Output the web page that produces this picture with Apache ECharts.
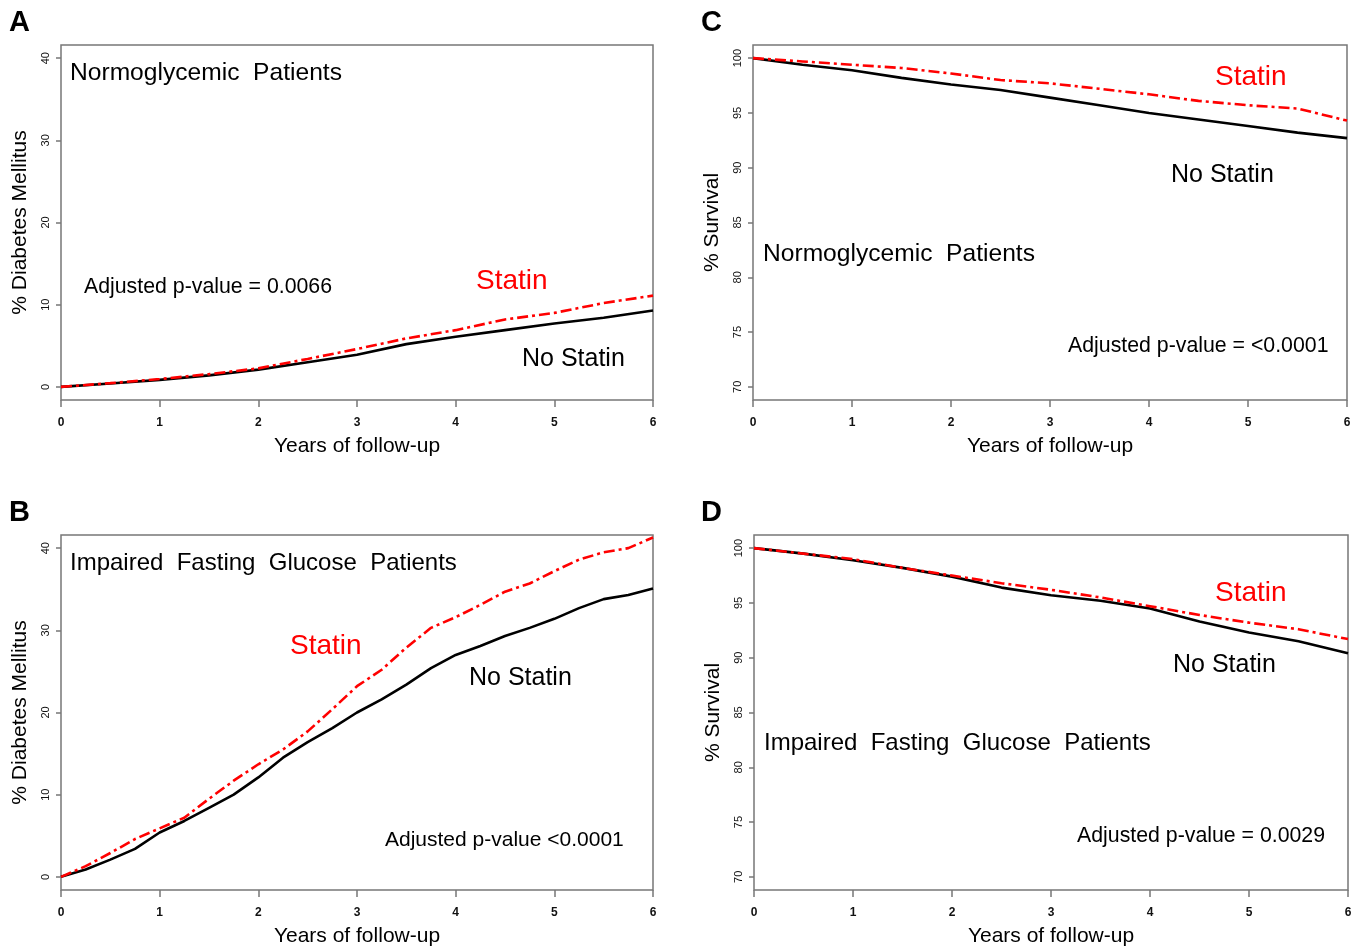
<!DOCTYPE html>
<html>
<head>
<meta charset="utf-8">
<script src="https://cdn.jsdelivr.net/npm/echarts@6/dist/echarts.min.js"></script>
<style>
  html, body { margin: 0; padding: 0; background: #fff; }
  #chart { width: 1358px; height: 948px; }
</style>
</head>
<body>
<div id="chart"></div>
<script>
// follow-up times (years)
const yearsHalf = [0, 0.5, 1, 1.5, 2, 2.5, 3, 3.5, 4, 4.5, 5, 5.5, 6];
const yearsQuarter = [0, 0.25, 0.5, 0.75, 1, 1.25, 1.5, 1.75, 2, 2.25, 2.5, 2.75, 3,
  3.25, 3.5, 3.75, 4, 4.25, 4.5, 4.75, 5, 5.25, 5.5, 5.75, 6];

// A: normoglycemic, % diabetes
const noStatinA = [0, 0.4, 0.85, 1.4, 2.1, 3.0, 3.9, 5.2, 6.1, 6.9, 7.7, 8.4, 9.3];
const statinA = [0, 0.45, 0.95, 1.55, 2.25, 3.4, 4.6, 5.9, 6.9, 8.2, 9.0, 10.2, 11.1];

// B: impaired fasting glucose, % diabetes
const noStatinB = [0, 0.9, 2.1, 3.4, 5.4, 6.8, 8.4, 10.0, 12.1, 14.5, 16.4, 18.1, 20.0,
  21.6, 23.4, 25.4, 27.0, 28.1, 29.3, 30.3, 31.4, 32.7, 33.8, 34.3, 35.1];
const statinB = [0, 1.3, 2.9, 4.6, 5.9, 7.2, 9.5, 11.7, 13.7, 15.5, 17.7, 20.4, 23.2,
  25.2, 27.9, 30.3, 31.6, 33.1, 34.7, 35.7, 37.2, 38.6, 39.5, 40.0, 41.3];

// C: normoglycemic, % survival
const noStatinC = [100, 99.4, 98.9, 98.2, 97.6, 97.1, 96.4, 95.7, 95.0, 94.4, 93.8, 93.2, 92.7];
const statinC = [100, 99.7, 99.4, 99.1, 98.6, 98.0, 97.7, 97.2, 96.7, 96.1, 95.7, 95.4, 94.3];

// D: impaired fasting glucose, % survival
const noStatinD = [100, 99.5, 98.9, 98.2, 97.4, 96.4, 95.7, 95.2, 94.5, 93.3, 92.3, 91.5, 90.4];
const statinD = [100, 99.5, 99.0, 98.2, 97.5, 96.8, 96.2, 95.5, 94.7, 93.9, 93.2, 92.6, 91.7];

const yearTicks = [0, 1, 2, 3, 4, 5, 6];
const diabetesTicks = [0, 10, 20, 30, 40];
const survivalTicks = [70, 75, 80, 85, 90, 95, 100];

const FONT = '"Liberation Sans", Arial, sans-serif';

function pairs(xs, ys) {
  return xs.map((x, i) => [x, ys[i]]);
}

function xAxisFor(gridIndex) {
  return {
    type: 'value', gridIndex: gridIndex, min: 0, max: 6, interval: 1,
    name: 'Years of follow-up', nameLocation: 'middle', nameGap: 36,
    nameTextStyle: { fontSize: 21, color: '#000', fontFamily: FONT },
    axisLine: { show: false, onZero: false },
    axisTick: { show: true, inside: false, length: 7, lineStyle: { color: '#777', width: 1.5 } },
    axisLabel: { margin: 17, fontSize: 12, fontWeight: 'bold', color: '#111', fontFamily: FONT,
      customValues: yearTicks },
    splitLine: { show: false }
  };
}

function yAxisFor(gridIndex, min, max, ticks, title) {
  return {
    type: 'value', gridIndex: gridIndex, min: min, max: max,
    name: title, nameLocation: 'middle', nameGap: 30,
    nameTextStyle: { fontSize: 21, color: '#000', fontFamily: FONT },
    axisLine: { show: false, onZero: false },
    axisTick: { show: true, length: 5, lineStyle: { color: '#777', width: 1.5 }, customValues: ticks },
    axisLabel: { margin: 10, rotate: 90, fontSize: 11, color: '#111', fontFamily: FONT, customValues: ticks },
    splitLine: { show: false }
  };
}

function line(name, idx, data, isStatin) {
  return {
    name: name, type: 'line', xAxisIndex: idx, yAxisIndex: idx,
    data: data, showSymbol: false, symbol: 'none', z: isStatin ? 3 : 2,
    lineStyle: isStatin
      ? { color: '#ff0000', width: 2.6, type: [11, 4, 3, 4] }
      : { color: '#000', width: 2.6 }
  };
}

function label(text, x, y, size, color, bold) {
  return {
    type: 'text', x: x, y: y,
    style: { text: text, fill: color || '#000', fontSize: size, fontFamily: FONT,
      fontWeight: bold ? 'bold' : 'normal', align: 'left', verticalAlign: 'middle' }
  };
}

const chart = echarts.init(document.getElementById('chart'));

chart.setOption({
  animation: false,
  backgroundColor: '#fff',
  grid: [
    { left: 61, top: 45, width: 592, height: 355, show: true, borderColor: '#777', borderWidth: 1.5 },
    { left: 61, top: 535, width: 592, height: 356, show: true, borderColor: '#777', borderWidth: 1.5 },
    { left: 753, top: 45, width: 594, height: 355, show: true, borderColor: '#777', borderWidth: 1.5 },
    { left: 754, top: 535, width: 594, height: 356, show: true, borderColor: '#777', borderWidth: 1.5 }
  ],
  xAxis: [xAxisFor(0), xAxisFor(1), xAxisFor(2), xAxisFor(3)],
  yAxis: [
    yAxisFor(0, -1.6, 41.6, diabetesTicks, '% Diabetes Mellitus'),
    yAxisFor(1, -1.6, 41.6, diabetesTicks, '% Diabetes Mellitus'),
    yAxisFor(2, 68.8, 101.2, survivalTicks, '% Survival'),
    yAxisFor(3, 68.8, 101.2, survivalTicks, '% Survival')
  ],
  series: [
    line('No Statin', 0, pairs(yearsHalf, noStatinA), false),
    line('Statin', 0, pairs(yearsHalf, statinA), true),
    line('No Statin', 1, pairs(yearsQuarter, noStatinB), false),
    line('Statin', 1, pairs(yearsQuarter, statinB), true),
    line('No Statin', 2, pairs(yearsHalf, noStatinC), false),
    line('Statin', 2, pairs(yearsHalf, statinC), true),
    line('No Statin', 3, pairs(yearsHalf, noStatinD), false),
    line('Statin', 3, pairs(yearsHalf, statinD), true)
  ],
  graphic: [
    label('A', 9, 23, 29, '#000', true),
    label('B', 9, 513, 29, '#000', true),
    label('C', 701, 23, 29, '#000', true),
    label('D', 701, 513, 29, '#000', true),

    label('Normoglycemic  Patients', 70, 73, 24.6),
    label('Adjusted p-value = 0.0066', 84, 287, 21.3),
    label('Statin', 476, 281, 28, '#ff0000'),
    label('No Statin', 522, 359, 25),

    label('Impaired  Fasting  Glucose  Patients', 70, 563, 24),
    label('Statin', 290, 646, 28, '#ff0000'),
    label('No Statin', 469, 678, 25),
    label('Adjusted p-value <0.0001', 385, 840, 21),

    label('Statin', 1215, 77, 28, '#ff0000'),
    label('No Statin', 1171, 175, 25),
    label('Normoglycemic  Patients', 763, 254, 24.6),
    label('Adjusted p-value = <0.0001', 1068, 346, 21.3),

    label('Statin', 1215, 593, 28, '#ff0000'),
    label('No Statin', 1173, 665, 25),
    label('Impaired  Fasting  Glucose  Patients', 764, 743, 24),
    label('Adjusted p-value = 0.0029', 1077, 836, 21.3)
  ]
});
</script>
</body>
</html>
